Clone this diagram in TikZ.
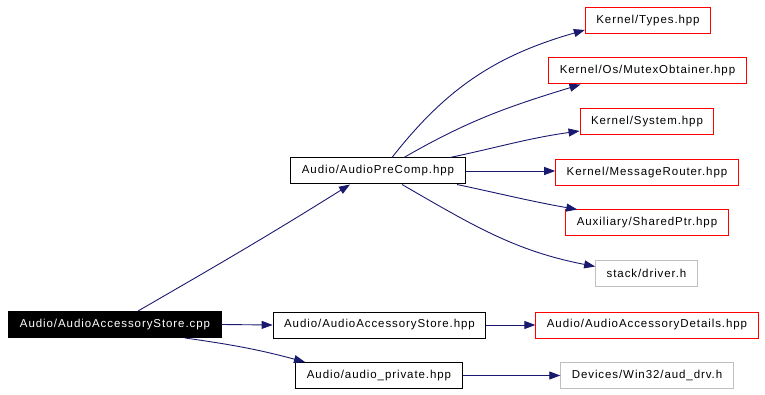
\documentclass[tikz,border=0pt]{standalone}
\usepackage{fontspec}
\setmainfont{Liberation Sans}[LetterSpace=8]
\usetikzlibrary{arrows.meta}
\definecolor{edgeblue}{HTML}{191970}
\definecolor{extgray}{HTML}{BFBFBF}

\begin{document}
\begin{tikzpicture}[x=1pt,y=1pt,
		file/.style={draw=black,line width=1pt,inner xsep=11pt,inner ysep=0pt,minimum height=26pt,
			font=\fontsize{11.5}{13}\selectfont},
		missing/.style={file,draw=red},
		extern/.style={file,draw=extgray},
		current/.style={file,fill=black,text=white},
		dep/.style={draw=edgeblue,line width=0.9pt,-{Triangle[length=11pt,width=8pt]},edgeblue}]
			\useasboundingbox (0,0) rectangle (765,-395);

			\node[current] (store cpp) at (115,-324.5) {Audio/AudioAccessoryStore.cpp};
			\node[file] (precomp) at (378,-171) {Audio/AudioPreComp.hpp};
			\node[file] (store hpp) at (379.5,-325) {Audio/AudioAccessoryStore.hpp};
			\node[file] (private) at (379,-375.5) {Audio/audio\_private.hpp};

			\node[missing] (types) at (648,-20.5) {Kernel/Types.hpp};
			\node[missing] (mutex) at (647.5,-71) {Kernel/Os/MutexObtainer.hpp};
			\node[missing] (system) at (647,-121.5) {Kernel/System.hpp};
			\node[missing] (router) at (647,-172.5) {Kernel/MessageRouter.hpp};
			\node[missing] (shared) at (647,-223) {Auxiliary/SharedPtr.hpp};
			\node[extern] (driver) at (646.5,-273.5) {stack/driver.h};
			\node[missing] (details) at (647,-325) {Audio/AudioAccessoryDetails.hpp};
			\node[extern] (auddrv) at (647,-375.5) {Devices/Win32/aud\_drv.h};

			\draw[dep] ([xshift=23]store cpp.north) to[out=30,in=212] ([xshift=-28]precomp.south);
			\draw[dep] (store cpp.east) -- (store hpp.west);
			\draw[dep] ([xshift=70]store cpp.south) to[out=-8,in=165] ([xshift=-74]private.north);

			\draw[dep] ([xshift=14]precomp.north) to[out=52,in=196] ([yshift=4]types.south west);
			\draw[dep] ([xshift=26]precomp.north) to[out=30,in=197] ([xshift=-67]mutex.south);
			\draw[dep] ([xshift=72]precomp.north) to[out=12,in=188] ([yshift=4]system.south west);
			\draw[dep] (precomp.east) -- (precomp.east -| router.west);
			\draw[dep] ([xshift=79]precomp.south) to[out=-12,in=170] ([xshift=12]shared.north west);
			\draw[dep] ([xshift=24]precomp.south) to[out=-30,in=169] ([yshift=7]driver.west);

			\draw[dep] (store hpp.east) -- (details.west);
			\draw[dep] (private.east) -- (auddrv.west);
		\end{tikzpicture}
\end{document}
